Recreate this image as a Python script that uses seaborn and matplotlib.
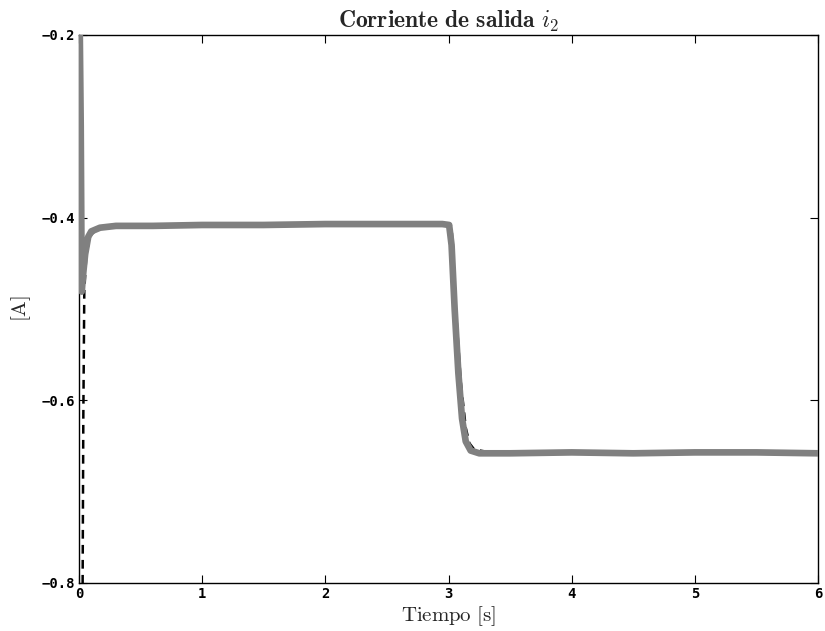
import matplotlib
matplotlib.use("Agg")
import matplotlib.pyplot as plt
import seaborn as sns
import pandas as pd

# Measured output current (gray, thick)
t_meas = [0.005, 0.014, 0.022, 0.035, 0.05, 0.075, 0.1, 0.17, 0.3, 0.6, 1.0, 1.5, 2.0, 2.5, 2.95,
          3.005, 3.025, 3.05, 3.08, 3.11, 3.14, 3.18, 3.25, 3.5, 4.0, 4.5, 5.0, 5.5, 6.0]
i_meas = [-0.18, -0.30, -0.481, -0.46, -0.44, -0.421, -0.415, -0.411, -0.409, -0.409, -0.408, -0.408,
          -0.407, -0.407, -0.407, -0.408, -0.43, -0.50, -0.57, -0.62, -0.645, -0.655, -0.658, -0.658,
          -0.657, -0.658, -0.657, -0.657, -0.658]

# Reference / model current (black, dashed)
t_ref = [0.028, 0.035, 0.043, 0.06, 0.09, 0.15, 0.3, 1.0, 2.0, 3.0, 3.025, 3.06, 3.1, 3.14, 3.17,
         3.21, 3.3, 4.0, 5.0, 6.0]
i_ref = [-0.85, -0.62, -0.48, -0.44, -0.42, -0.412, -0.409, -0.408, -0.407, -0.407, -0.41, -0.50,
         -0.58, -0.63, -0.647, -0.654, -0.656, -0.657, -0.657, -0.657]

xticks = [0, 1, 2, 3, 4, 5, 6]
yticks = [-0.8, -0.6, -0.4, -0.2]
xtick_labels = ["0", "1", "2", "3", "4", "5", "6"]
ytick_labels = ["\u22120.8", "\u22120.6", "\u22120.4", "\u22120.2"]

sns.set_style("white")
plt.rcParams["mathtext.fontset"] = "cm"

df_meas = pd.DataFrame({"t": t_meas, "i": i_meas})
df_ref = pd.DataFrame({"t": t_ref, "i": i_ref})

fig = plt.figure(figsize=(8.25, 6.31), dpi=100)
ax = fig.add_axes([79 / 825, 48 / 631, 739 / 825, 548 / 631])

sns.lineplot(data=df_ref, x="t", y="i", ax=ax, color="black", linewidth=1.8,
             linestyle=(0, (3.5, 2.5)), sort=False, zorder=2)
sns.lineplot(data=df_meas, x="t", y="i", ax=ax, color="#808080", linewidth=4.8,
             sort=False, zorder=3, solid_capstyle="round", solid_joinstyle="round")

ax.set_xlim(0, 6)
ax.set_ylim(-0.8, -0.2)
ax.set_xticks(xticks)
ax.set_yticks(yticks)
ax.set_xticklabels(xtick_labels, family="DejaVu Sans Mono", fontweight="bold", fontsize=10)
ax.set_yticklabels(ytick_labels, family="DejaVu Sans Mono", fontweight="bold", fontsize=10)
ax.tick_params(direction="in", length=6, width=0.8, top=True, right=True,
               bottom=True, left=True, pad=3, colors="black")
for s in ax.spines.values():
    s.set_visible(True)
    s.set_color("black")
    s.set_linewidth(1.0)

ax.set_xlabel(r"$\mathrm{Tiempo\ [s]}$", fontsize=15, labelpad=2)
ax.set_ylabel(r"$\mathrm{[A]}$", fontsize=15, labelpad=6)
ax.set_title(r"$\mathbf{Corriente\ de\ salida}\ i_2$", fontsize=17, pad=5)

fig.savefig("out.png", dpi=100)
